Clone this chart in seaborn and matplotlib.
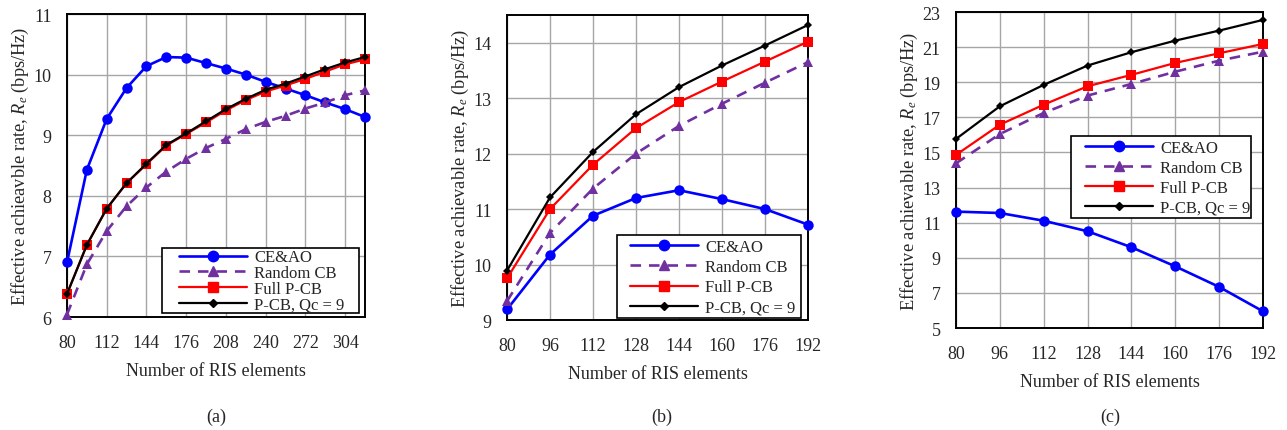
import numpy as np
import pandas as pd
import matplotlib
matplotlib.use("Agg")
import matplotlib.pyplot as plt
import seaborn as sns
from matplotlib.lines import Line2D
from matplotlib.patches import Rectangle

sns.set_style("white")
plt.rcParams['font.family'] = ['Liberation Serif', 'DejaVu Serif']
plt.rcParams['mathtext.fontset'] = 'custom'
plt.rcParams['mathtext.it'] = 'Liberation Serif:italic'
plt.rcParams['mathtext.rm'] = 'Liberation Serif'

# ---------------- data ----------------
series_names = ["CE&AO", "Random CB", "Full P-CB", "P-CB, Qc = 9"]

# Panel (a)
x_a = [80, 96, 112, 128, 144, 160, 176, 192, 208, 224, 240, 256, 272, 288, 304, 320]
ceao_a = [6.90, 8.43, 9.27, 9.78, 10.14, 10.29, 10.28, 10.19, 10.10, 10.00, 9.88, 9.77, 9.66, 9.54, 9.43, 9.30]
rand_a = [6.04, 6.87, 7.42, 7.83, 8.14, 8.40, 8.61, 8.79, 8.94, 9.10, 9.22, 9.32, 9.44, 9.54, 9.66, 9.74]
full_a = [6.38, 7.19, 7.79, 8.21, 8.52, 8.83, 9.02, 9.21, 9.41, 9.58, 9.72, 9.82, 9.93, 10.05, 10.17, 10.25]
pcb_a = [6.38, 7.19, 7.79, 8.21, 8.53, 8.84, 9.03, 9.23, 9.43, 9.60, 9.75, 9.85, 9.97, 10.09, 10.20, 10.29]
xticks_a = [80, 112, 144, 176, 208, 240, 272, 304]
yticks_a = [6, 7, 8, 9, 10, 11]

# Panel (b)
x_b = [80, 96, 112, 128, 144, 160, 176, 192]
ceao_b = [9.19, 10.18, 10.88, 11.20, 11.34, 11.18, 11.00, 10.72]
rand_b = [9.34, 10.57, 11.37, 12.00, 12.50, 12.90, 13.28, 13.65]
full_b = [9.75, 11.00, 11.80, 12.46, 12.93, 13.30, 13.66, 14.02]
pcb_b = [9.89, 11.21, 12.03, 12.71, 13.20, 13.59, 13.95, 14.32]
xticks_b = [80, 96, 112, 128, 144, 160, 176, 192]
yticks_b = [9, 10, 11, 12, 13, 14]

# Panel (c)
x_c = [80, 96, 112, 128, 144, 160, 176, 192]
ceao_c = [11.63, 11.55, 11.11, 10.51, 9.60, 8.51, 7.34, 5.95]
rand_c = [14.38, 16.05, 17.25, 18.24, 18.90, 19.60, 20.23, 20.74]
full_c = [14.86, 16.58, 17.72, 18.77, 19.42, 20.10, 20.65, 21.18]
pcb_c = [15.77, 17.63, 18.85, 19.95, 20.71, 21.37, 21.94, 22.55]
xticks_c = [80, 96, 112, 128, 144, 160, 176, 192]
yticks_c = [5, 7, 9, 11, 13, 15, 17, 19, 21, 23]

ylabel_a = "Effective achieavble rate, $R_e$ (bps/Hz)"
ylabel_bc = "Effective achievable rate, $R_e$ (bps/Hz)"
xlabel = "Number of RIS elements"
captions = ["(a)", "(b)", "(c)"]

# ---------------- styles ----------------
styles = [
    dict(color="#0000FF", marker="o", markersize=7.5, linewidth=1.9, linestyle="-"),
    dict(color="#7030A0", marker="^", markersize=7.5, linewidth=1.9, linestyle=(0, (4, 3))),
    dict(color="#FF0000", marker="s", markersize=6.8, linewidth=1.6, linestyle="-"),
    dict(color="#000000", marker="D", markersize=4.5, linewidth=1.6, linestyle="-"),
]

W, H = 1287, 431
fig = plt.figure(figsize=(W / 100, H / 100), dpi=100)

def px_axes(l, r, t, b):
    return fig.add_axes([l / W, 1 - b / H, (r - l) / W, (b - t) / H])

panels = [
    dict(box=(67, 365, 15, 318), x=x_a, ys=[ceao_a, rand_a, full_a, pcb_a], xlim=(80, 320), ylim=(6, 11),
         xt=xticks_a, yt=yticks_a, ylabel=ylabel_a,
         frame=(162, 359, 249, 314), hx=179, cy=282, lsp=-0.02, cap=216),
    dict(box=(507, 808, 16, 321), x=x_b, ys=[ceao_b, rand_b, full_b, pcb_b], xlim=(80, 192), ylim=(9, 14.5),
         xt=xticks_b, yt=yticks_b, ylabel=ylabel_bc,
         frame=(617, 801, 236, 319), hx=630, cy=278.3, lsp=0.25, cap=662),
    dict(box=(956, 1263, 13, 329), x=x_c, ys=[ceao_c, rand_c, full_c, pcb_c], xlim=(80, 192), ylim=(5, 23),
         xt=xticks_c, yt=yticks_c, ylabel=ylabel_bc,
         frame=(1071, 1251, 137, 219), hx=1085, cy=179, lsp=0.23, cap=1110),
]

for i, p in enumerate(panels):
    ax = px_axes(*p["box"])
    for name, y, st in zip(series_names, p["ys"], styles):
        df = pd.DataFrame({"x": p["x"], "y": y})
        sns.lineplot(data=df, x="x", y="y", ax=ax, legend=False, markeredgewidth=0,
                     clip_on=False, zorder=3, **st)
    ax.set_xlim(*p["xlim"])
    ax.set_ylim(*p["ylim"])
    ax.set_xticks(p["xt"])
    ax.set_yticks(p["yt"])
    ax.set_xticklabels([str(v) for v in p["xt"]])
    ax.set_yticklabels([str(v) for v in p["yt"]])
    ax.grid(True, color="#A6A6A6", linewidth=1.0, zorder=0)
    ax.set_axisbelow(True)
    ax.tick_params(axis="x", length=0, labelsize=13, pad=12)
    ax.tick_params(axis="y", length=0, labelsize=13, pad=11)
    for s in ax.spines.values():
        s.set_color("black")
        s.set_linewidth(1.4)
        s.set_visible(True)
    ax.set_xlabel(xlabel, fontsize=13, labelpad=8)
    ax.set_ylabel(p["ylabel"], fontsize=13.2, labelpad=2)
    # legend frame
    fl, fr, ft, fb = p["frame"]
    rect = Rectangle((fl / W, 1 - fb / H), (fr - fl) / W, (fb - ft) / H, transform=fig.transFigure,
                     facecolor="white", edgecolor="black", linewidth=1.2, clip_on=False, zorder=4)
    ax.add_patch(rect)
    handles = [Line2D([], [], **st) for st in styles]
    leg = ax.legend(handles, series_names, loc="center left",
                    bbox_to_anchor=(p["hx"] / W, 1 - p["cy"] / H), bbox_transform=fig.transFigure,
                    fontsize=12, handlelength=4.1, handletextpad=0.42, labelspacing=p["lsp"],
                    borderpad=0, borderaxespad=0, frameon=False)
    leg.set_zorder(5)
    fig.text(p["cap"] / W, 1 - 417 / H, captions[i], ha="center", va="center", fontsize=13)

fig.savefig("out.png", dpi=100)
